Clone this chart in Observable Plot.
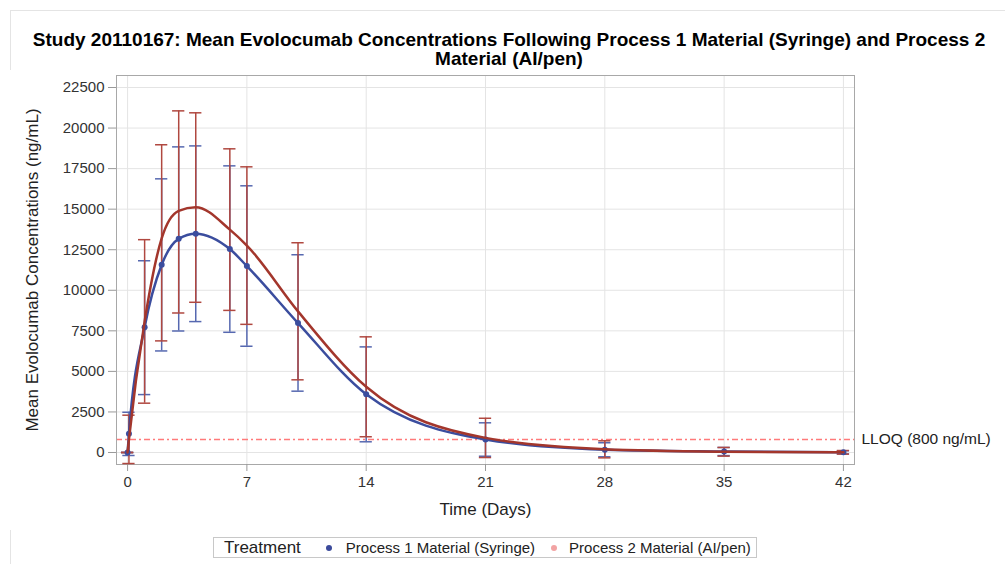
<!DOCTYPE html>
<html><head><meta charset="utf-8">
<script src="https://cdn.jsdelivr.net/npm/d3@7"></script>
<script src="https://cdn.jsdelivr.net/npm/@observablehq/plot@0.6"></script>
<style>
body{margin:0;background:#fff;font-family:"Liberation Sans",Arial,sans-serif;}
#wrap{position:relative;width:1005px;height:564px;overflow:hidden;background:#fff;}
#border{position:absolute;left:10px;top:10px;width:1100px;height:600px;border:1px solid #e4e4e4;}
#title{position:absolute;left:0;top:30px;width:1018px;text-align:center;font-weight:bold;font-size:19px;line-height:19px;color:#000;}
#chart{position:absolute;left:0;top:70px;}
#legend{position:absolute;left:213px;top:537px;width:544px;height:21px;border:1px solid #c8c8c8;box-sizing:border-box;display:flex;align-items:center;font-size:15px;color:#222;white-space:nowrap;}
#legend .sw{display:inline-block;width:6px;height:6px;border-radius:50%;}
</style></head>
<body>
<div id="wrap">
<div id="border"></div>
<div id="title">Study 20110167: Mean Evolocumab Concentrations Following Process 1 Material (Syringe) and Process 2<br>Material (AI/pen)</div>
<div id="chart"></div>
<div id="legend">
  <span style="margin-left:10px;margin-right:25px;font-size:17px;">Treatment</span>
  <span class="sw" style="background:#3b4a9b;margin-right:14px;"></span><span style="margin-right:16px;">Process 1 Material (Syringe)</span>
  <span class="sw" style="background:#f2a3a3;margin-right:12px;"></span><span>Process 2 Material (AI/pen)</span>
</div>
</div>
<script>
const times  = [0, 0.08, 1, 2, 3, 4, 6, 7, 10, 14, 21, 28, 35, 42];
const p1Mean = [0, 1150, 7720, 11570, 13170, 13490, 12540, 11490, 7980, 3590, 800, 170, 60, 10];
const p1Lo   = [0, -185, 3570, 6260, 7490, 8070, 7410, 6550, 3780, 660, -230, -265, -190, -90];
const p1Hi   = [0, 2480, 11820, 16870, 18840, 18900, 17670, 16440, 12190, 6510, 1830, 600, 310, 110];
const p2Mean = [0, 810, 8080, 13200, 14900, 15120, 13740, 12760, 8700, 4050, 900, 200, 50, 10];
const p2Lo   = [0, -680, 3040, 6880, 8600, 9260, 8760, 7900, 4480, 970, -310, -330, -225, -100];
const p2Hi   = [0, 2300, 13120, 18970, 21060, 20940, 18720, 17610, 12930, 7130, 2110, 720, 310, 120];
const lloq = [800];
const lloqLabel = "LLOQ (800 ng/mL)";
const xTicks = [0, 7, 14, 21, 28, 35, 42];
const yTicks = [0, 2500, 5000, 7500, 10000, 12500, 15000, 17500, 20000, 22500];
const xLabel = "Time (Days)";
const yLabel = "Mean Evolocumab Concentrations (ng/mL)";

const p1 = times.map((t, i) => ({t, mean: p1Mean[i], lo: p1Lo[i], hi: p1Hi[i]}));
const p2 = times.map((t, i) => ({t, mean: p2Mean[i], lo: p2Lo[i], hi: p2Hi[i]}));

const blue = "#3b4d9e", red = "#a3362c";
const blueErr = "#5668b0", redErr = "#b04840";
const capHalf = 0.36;

function errMarks(data, color) {
  return [
    Plot.ruleX(data, {x: "t", y1: "lo", y2: "hi", stroke: color, strokeWidth: 1.5}),
    Plot.ruleY(data, {y: "lo", x1: d => d.t - capHalf, x2: d => d.t + capHalf, stroke: color, strokeWidth: 1.5}),
    Plot.ruleY(data, {y: "hi", x1: d => d.t - capHalf, x2: d => d.t + capHalf, stroke: color, strokeWidth: 1.5})
  ];
}

const chart = Plot.plot({
  width: 1005, height: 460,
  marginTop: 5, marginBottom: 66, marginLeft: 116, marginRight: 151,
  x: {domain: [-0.65, 42.65], ticks: xTicks},
  y: {domain: [-740, 23240], ticks: yTicks},
  style: {fontFamily: "'Liberation Sans', Arial, sans-serif", fontSize: "15px", color: "#333", background: "white", overflow: "visible"},
  marks: [
    Plot.gridX(xTicks, {stroke: "#e4e4e4", strokeOpacity: 1}),
    Plot.gridY(yTicks, {stroke: "#e4e4e4", strokeOpacity: 1}),
    Plot.ruleY(lloq, {stroke: "#ff7a7a", strokeWidth: 1.3, strokeDasharray: "6,3,2,3"}),
    Plot.frame({stroke: "#a8a8a8"}),
    Plot.axisX(xTicks, {tickSize: 7, tickPadding: 5, stroke: "#999", label: null, tickFormat: d3.format("d")}),
    Plot.axisY(yTicks, {tickSize: 8, tickPadding: 4, stroke: "#999", label: null, tickFormat: d3.format("d")}),
    ...errMarks(p1, blueErr),
    ...errMarks(p2, redErr),
    Plot.line(p1, {x: "t", y: "mean", curve: "monotone-x", stroke: blue, strokeWidth: 2.5}),
    Plot.dot(p1, {x: "t", y: "mean", r: 3, fill: blue}),
    Plot.line(p2, {x: "t", y: "mean", curve: "monotone-x", stroke: red, strokeWidth: 2.5}),
    Plot.text(lloq, {y: d => d, frameAnchor: "right", dx: 7, textAnchor: "start", text: () => lloqLabel, fill: "#222", fontSize: 15.5}),
    Plot.text([xLabel], {frameAnchor: "bottom", dy: 50, text: d => d, fill: "#222", fontSize: 17}),
    Plot.text([yLabel], {frameAnchor: "left", dx: -84, rotate: -90, textAnchor: "middle", text: d => d, fill: "#222", fontSize: 17})
  ]
});
document.getElementById("chart").append(chart);
</script>
</body></html>
